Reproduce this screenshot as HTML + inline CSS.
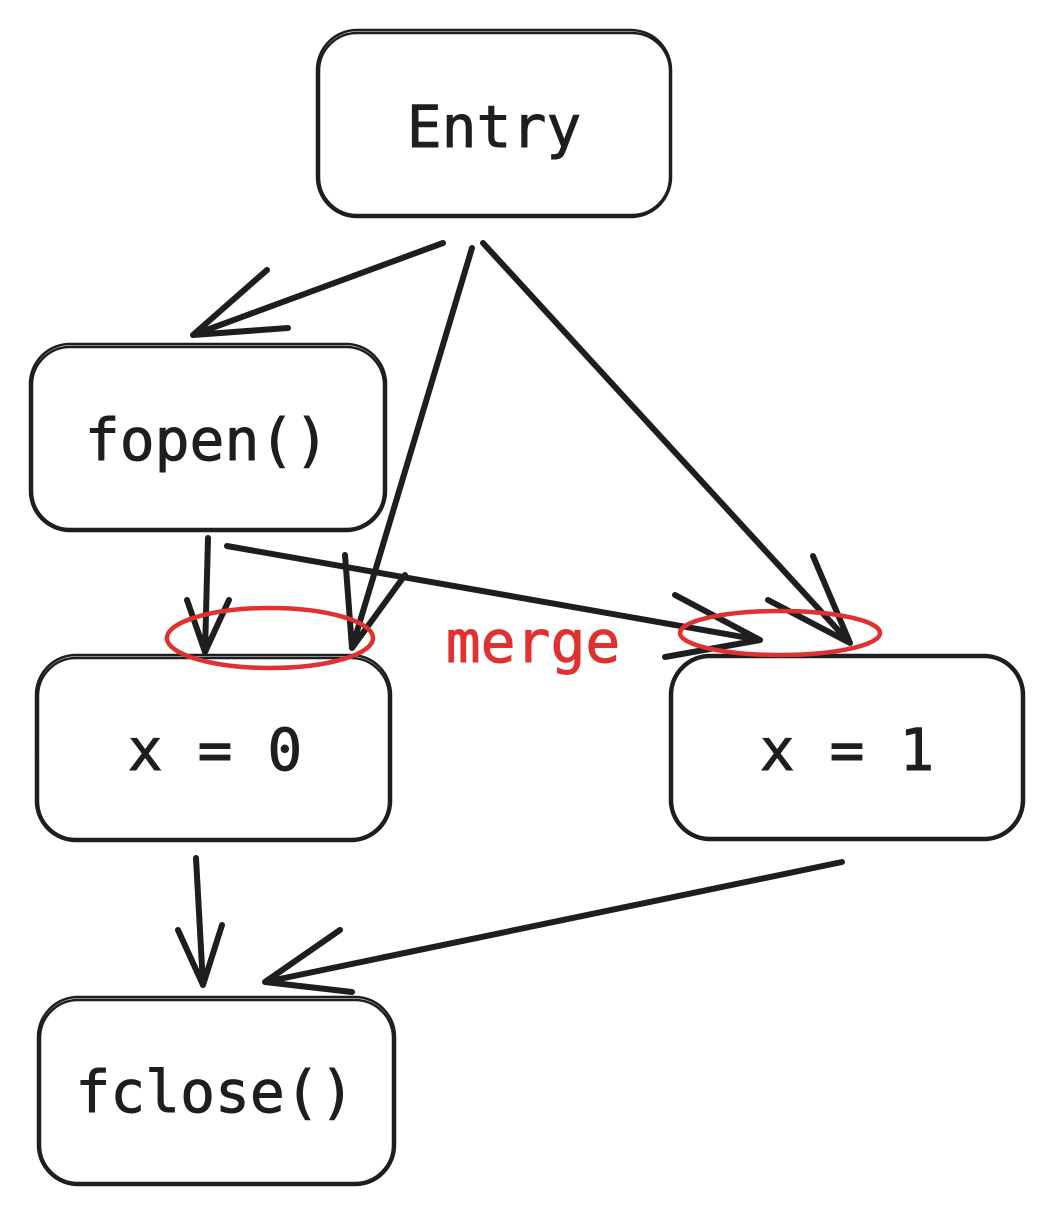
<!DOCTYPE html>
<html><head><meta charset="utf-8"><style>
html,body{margin:0;padding:0;background:#fff;}
svg{display:block;}
text{font-family:"DejaVu Sans Mono","Liberation Mono",monospace;font-size:58px;fill:#1e1e1e;stroke:#1e1e1e;stroke-width:0.9;text-anchor:middle;dominant-baseline:central;}
</style></head><body>
<svg width="1054" height="1214" viewBox="0 0 1054 1214" xmlns="http://www.w3.org/2000/svg">
<g fill="none" stroke="#1e1e1e" stroke-width="2.5">
<rect x="317" y="30" width="354" height="187" rx="40"/>
<rect x="319" y="33" width="351" height="182" rx="38"/>
<rect x="30" y="344" width="356" height="187" rx="40"/>
<rect x="32" y="347" width="352" height="182" rx="38"/>
<rect x="36" y="655" width="355" height="186" rx="40"/>
<rect x="38" y="658" width="351" height="181" rx="38"/>
<rect x="670" y="655" width="354" height="185" rx="40"/>
<rect x="672" y="657" width="350" height="181" rx="38"/>
<rect x="38" y="997" width="357" height="188" rx="40"/>
<rect x="40" y="1000" width="353" height="183" rx="38"/>
</g>
<g fill="none" stroke="#1e1e1e" stroke-width="6" stroke-linecap="round">
<path d="M443 243 L193 335 M193 335 L267 270 M193 335 L288 328"/>
<path d="M472 248 L352 648 M352 648 L345 555 M352 648 L405 575"/>
<path d="M483 243 L850 643 M850 643 L813 556 M850 643 L768 600"/>
<path d="M208 538 L205 652 M205 652 L187 600 M205 652 L229 600"/>
<path d="M227 546 L760 640 M760 640 L675 595 M760 640 L665 657"/>
<path d="M196 858 L203 985 M203 985 L178 930 M203 985 L222 925"/>
<path d="M842 862 L265 982 M265 982 L340 930 M265 982 L352 992"/>
</g>
<g fill="none" stroke="#e03131" stroke-width="4.5">
<ellipse cx="270" cy="638" rx="103" ry="30"/>
<ellipse cx="780" cy="633" rx="100" ry="22"/>
</g>
<text x="494" y="127">Entry</text>
<text x="207" y="440">fopen()</text>
<text x="215" y="750">x = 0</text>
<text x="847" y="750">x = 1</text>
<text x="215" y="1092">fclose()</text>
<text x="533" y="642" style="fill:#e03131;stroke:#e03131">merge</text>
</svg>
</body></html>
